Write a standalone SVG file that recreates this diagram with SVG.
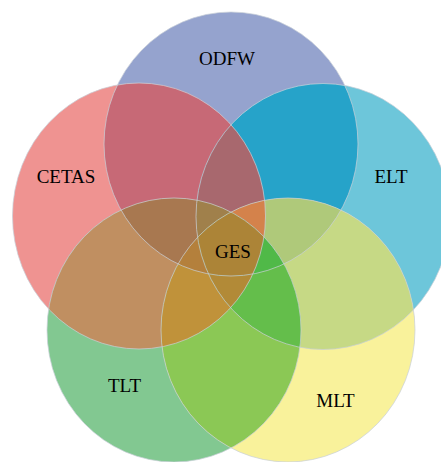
<svg xmlns="http://www.w3.org/2000/svg" xmlns:xlink="http://www.w3.org/1999/xlink" width="441" height="462" viewBox="0 0 441 462">
<style>
.t{font-family:"Liberation Serif","Times New Roman",serif;font-size:19px;fill:#000;text-anchor:middle}
.o{fill:none;stroke:#c9d0d8;stroke-width:0.9;stroke-opacity:0.8}
</style>
<defs>
<ellipse id="eO" cx="231" cy="144" rx="127" ry="132"/>
<ellipse id="eC" cx="139" cy="216" rx="126.5" ry="133"/>
<ellipse id="eE" cx="323" cy="216.5" rx="127" ry="133"/>
<ellipse id="eT" cx="174" cy="330" rx="127" ry="132"/>
<ellipse id="eM" cx="288" cy="330" rx="127" ry="132"/>
<clipPath id="cO"><use xlink:href="#eO"/></clipPath>
<clipPath id="cC"><use xlink:href="#eC"/></clipPath>
<clipPath id="cE"><use xlink:href="#eE"/></clipPath>
<clipPath id="cT"><use xlink:href="#eT"/></clipPath>
</defs>
<rect width="441" height="462" fill="#fff"/>
<g id="ODFW"><use xlink:href="#eO" fill="#95A3CE"/></g>
<g id="CETAS"><use xlink:href="#eC" fill="#EF9391"/></g>
<g id="ELT"><use xlink:href="#eE" fill="#6DC6DA"/></g>
<g id="TLT"><use xlink:href="#eT" fill="#82C891"/></g>
<g id="MLT"><use xlink:href="#eM" fill="#F9F29B"/></g>
<g id="overlaps">
<g clip-path="url(#cO)"><use xlink:href="#eC" fill="#C76976"/></g>
<g clip-path="url(#cO)"><use xlink:href="#eE" fill="#26A3C9"/></g>
<g clip-path="url(#cC)"><use xlink:href="#eT" fill="#C08F61"/></g>
<g clip-path="url(#cE)"><use xlink:href="#eM" fill="#C6D985"/></g>
<g clip-path="url(#cT)"><use xlink:href="#eM" fill="#8BC855"/></g>
<g clip-path="url(#cO)"><g clip-path="url(#cC)"><use xlink:href="#eE" fill="#A8686E"/></g></g>
<g clip-path="url(#cO)"><g clip-path="url(#cC)"><use xlink:href="#eT" fill="#A87850"/></g></g>
<g clip-path="url(#cO)"><g clip-path="url(#cE)"><use xlink:href="#eM" fill="#AFC97A"/></g></g>
<g clip-path="url(#cC)"><g clip-path="url(#cT)"><use xlink:href="#eM" fill="#C0923A"/></g></g>
<g clip-path="url(#cE)"><g clip-path="url(#cT)"><use xlink:href="#eM" fill="#64BE4B"/></g></g>
<g clip-path="url(#cO)"><g clip-path="url(#cC)"><g clip-path="url(#cE)"><use xlink:href="#eT" fill="#A0804B"/></g></g></g>
<g clip-path="url(#cO)"><g clip-path="url(#cC)"><g clip-path="url(#cE)"><use xlink:href="#eM" fill="#D4824B"/></g></g></g>
<g clip-path="url(#cO)"><g clip-path="url(#cC)"><g clip-path="url(#cT)"><use xlink:href="#eM" fill="#B4803C"/></g></g></g>
<g clip-path="url(#cC)"><g clip-path="url(#cE)"><g clip-path="url(#cT)"><use xlink:href="#eM" fill="#B28A37"/></g></g></g>
<g clip-path="url(#cO)"><g clip-path="url(#cE)"><g clip-path="url(#cT)"><use xlink:href="#eM" fill="#50B948"/></g></g></g>
<g clip-path="url(#cO)"><g clip-path="url(#cC)"><g clip-path="url(#cE)"><g clip-path="url(#cT)"><use xlink:href="#eM" fill="#AC8437"/></g></g></g></g>
</g>
<g id="outlines">
<use xlink:href="#eO" class="o"/>
<use xlink:href="#eC" class="o"/>
<use xlink:href="#eE" class="o"/>
<use xlink:href="#eT" class="o"/>
<use xlink:href="#eM" class="o"/>
</g>
<g id="labels">
<text class="t" x="227" y="65">ODFW</text>
<text class="t" x="66" y="183">CETAS</text>
<text class="t" x="391" y="183">ELT</text>
<text class="t" x="233" y="258">GES</text>
<text class="t" x="124.5" y="392">TLT</text>
<text class="t" x="335.5" y="407">MLT</text>
</g>
<g id="connectors"/>
</svg>
